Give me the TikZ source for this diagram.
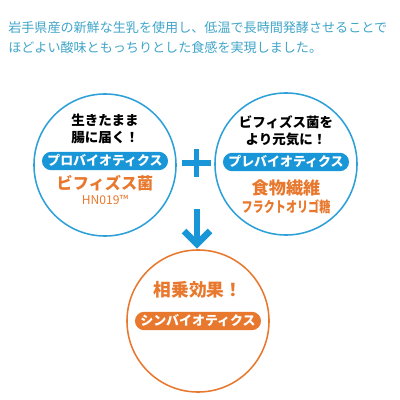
\documentclass[tikz,border=0pt]{standalone}
\usepackage{fontspec}
\newfontfamily\jp{Noto Sans CJK JP}
\definecolor{headblue}{RGB}{64,165,200}
\definecolor{ringblue}{RGB}{45,160,215}
\definecolor{pillblue}{RGB}{25,150,215}
\definecolor{synorange}{RGB}{232,120,45}
\tikzset{
  ring/.style={circle, draw=#1, line width=1.1pt, minimum size=3.55cm, inner sep=0pt},
  pill/.style={fill=#1, rounded corners=0.23cm, minimum width=3.15cm, minimum height=0.46cm,
    inner sep=0pt, text=white, font=\jp\bfseries\fontsize{9.2}{10}\selectfont},
  lead/.style={font=\jp\bfseries\fontsize{9.6}{12.5}\selectfont, align=center, text=black},
  signline/.style={line width=3.6pt, draw=pillblue},
}
\begin{document}
\begin{tikzpicture}[x=0.025cm, y=-0.025cm]
\useasboundingbox (0,0) rectangle (400,400);
% Intro text
\node[anchor=west, text=headblue, font=\jp\fontsize{9.3}{10}\selectfont, inner sep=0pt] (line1) at (8,28)
  {岩手県産の新鮮な生乳を使用し、低温で長時間発酵させることで};
\node[anchor=west, text=headblue, font=\jp\fontsize{9.3}{10}\selectfont, inner sep=0pt] (line2) at (8,48)
  {ほどよい酸味ともっちりとした食感を実現しました。};

% Probiotics circle
\node[ring=ringblue] (pro) at (105,165) {};
\node[lead] (prolead) at (105,129) {生きたまま\\腸に届く！};
\node[pill=pillblue] (propill) at (105,161) {プロバイオティクス};
\node[text=synorange, font=\jp\bfseries\fontsize{11.5}{12}\selectfont] (bifido) at (105,183) {ビフィズス菌};
\node[text=synorange, font=\jp\fontsize{8.6}{9}\selectfont] (strain) at (105,200) {HN019™};

% Prebiotics circle
\node[ring=ringblue] (pre) at (286,164) {};
\node[lead] (prelead) at (286,131) {ビフィズス菌を\\より元気に！};
\node[pill=pillblue] (prepill) at (286,162) {プレバイオティクス};
\node[text=synorange, font=\jp\bfseries\fontsize{12.2}{13}\selectfont] (fiber) at (286,188) {食物繊維};
\node[text=synorange, font=\jp\bfseries\fontsize{10.4}{11}\selectfont, xscale=0.76, transform shape] (oligo) at (286,207) {フラクトオリゴ糖};

% Plus and arrow
\draw[signline] (182,163) -- (211,163);
\draw[signline] (196.5,149) -- (196.5,177);
\draw[signline, line width=4.4pt] (197,209) -- (197,242);
\draw[signline, line width=4.6pt, miter limit=10] (184,231) -- (197,244) -- (210,231);

% Synbiotics circle
\node[ring=synorange] (syn) at (198,321) {};
\node[text=synorange, font=\jp\bfseries\fontsize{12.6}{13}\selectfont] (effect) at (198,290) {相乗効果！};
\node[pill=synorange] (synpill) at (198,321) {シンバイオティクス};
\end{tikzpicture}
\end{document}
